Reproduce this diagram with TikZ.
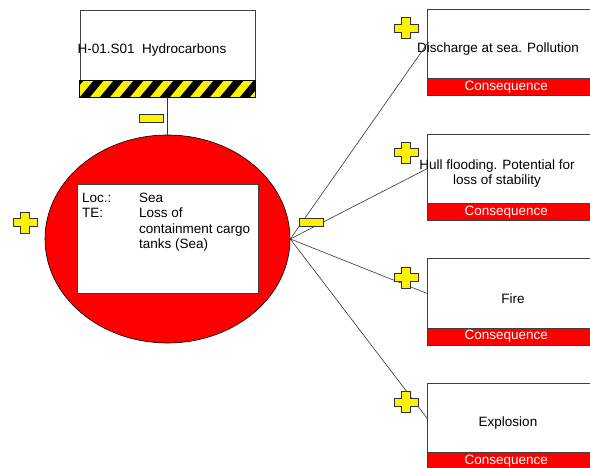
\documentclass[tikz,border=0pt]{standalone}
\usepackage{fontspec}
\setmainfont{Liberation Sans}
\usetikzlibrary{shapes.geometric}
\begin{document}
\begin{tikzpicture}[x=1pt,y=-1pt]
    \newcommand{\consleft}{427} % left edge of the consequence boxes
    \newcommand{\constop}{9}
    \newcommand{\consstep}{124.7} % vertical spacing of the boxes
    \newcommand{\consh}{86}
    \newcommand{\bandh}{17} % height of the coloured bands

    % styles of boxes, texts, links and signs
    \tikzset{
        frame/.style={
            draw=black!75,
            fill=white,
            line width=0.7pt,
            inner sep=0pt
            },
        txt/.style={font=\fontsize{13.5}{15.5}\selectfont, inner sep=0pt, align=center},
        link/.style={draw=black!80, line width=0.6pt},
        sign/.style={draw=black!80, fill=yellow, line width=0.6pt}
    }
    \newcommand{\plusmark}[1]{\draw[sign] (#1) ++(-4.5,-10.5) -- ++(9,0) -- ++(0,6.5) -- ++(7.5,0) -- ++(0,8) -- ++(-7.5,0) -- ++(0,6.5) -- ++(-9,0) -- ++(0,-6.5) -- ++(-7.5,0) -- ++(0,-8) -- ++(7.5,0) -- cycle;}
    \newcommand{\minusmark}[1]{\draw[sign] (#1) ++(-12,-4) rectangle ++(24,8);}

    \useasboundingbox (0,0) rectangle (590,468);
    \clip (0,0) rectangle (590,468);

    % hazard
    \node[frame, minimum width=175pt, minimum height=87pt] (hazard) at (167.5,53.5) {};
    \node[txt] (hazardtxt) at (152,50) {H-01.S01\ \ Hydrocarbons};
    \begin{scope}
        \clip (hazard.south west) rectangle ([yshift=\bandh]hazard.south east);
        \fill[yellow] (hazard.south west) rectangle ([yshift=\bandh]hazard.south east);
        \foreach \k in {-1,...,9}
            \fill[black] (80+20*\k,97) -- ++(10,0) -- ++(14,-17) -- ++(-10,0) -- cycle;
    \end{scope}
    \draw[black, line width=0.7pt] (hazard.south west) rectangle ([yshift=\bandh]hazard.south east);

    % top event
    \node[ellipse, draw=black, fill=red, line width=0.6pt, minimum width=245pt, minimum height=208pt, inner sep=0pt] (te) at (167.5,239) {};
    \node[frame, minimum width=181pt, minimum height=109pt] (tebox) at (167.5,238.5) {};
    \node[txt, anchor=north west, align=left] (tetxt) at (82,191) {\begin{tabular}{@{}p{57pt}@{}l@{}}Loc.: & Sea\\ TE: & Loss of\\ & containment cargo\\ & tanks (Sea)\end{tabular}};

    \draw[link] (hazard.south) -- (te.north);

    % consequences
    \foreach \i/\txt/\tx in {0/{Discharge at sea. Pollution}/498, 1/{Hull flooding. Potential for\\loss of stability}/497, 2/Fire/513, 3/Explosion/508}{
        \node[frame, anchor=north west, minimum width=170pt, minimum height=\consh pt] (cons\i) at (\consleft, \constop+\i*\consstep) {};
        \fill[red, draw=black!75, line width=0.7pt] (cons\i.south west) rectangle ([yshift=\bandh]cons\i.south east);
        \node[txt, text=white] (band\i) at ([xshift=-6pt, yshift=8.5pt]cons\i.south) {Consequence};
        \node[txt] (constxt\i) at (\tx, \constop+\i*\consstep+40) {\txt};
        \coordinate (in\i) at ([yshift=-35pt]cons\i.north west);
        \draw[link] (te.east) -- (in\i);
        \plusmark{[xshift=-21pt, yshift=-19pt]cons\i.north west}
    }

    % signs
    \minusmark{151,118}
    \minusmark{311,222}
    \plusmark{25,222.5}

\end{tikzpicture}
\end{document}
